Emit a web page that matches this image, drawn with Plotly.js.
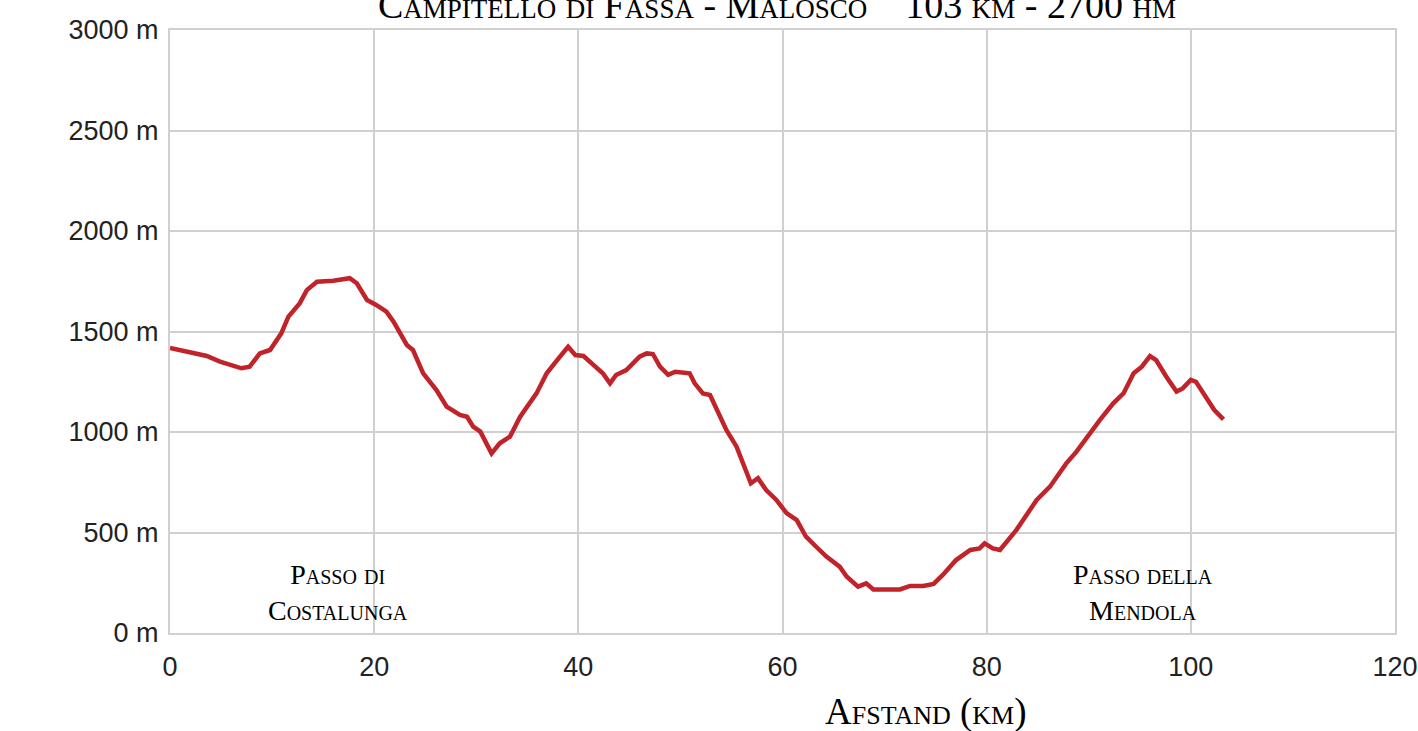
<!DOCTYPE html>
<html>
<head>
<meta charset="utf-8">
<script src="https://cdn.plot.ly/plotly-3.0.1.min.js"></script>
<style>html,body{margin:0;padding:0;background:#fff;}#chart{width:1418px;height:731px;}</style>
</head>
<body>
<div id="chart"></div>
<script>
const distanceKm = [0.0,1.5,3.6,4.9,7.0,7.8,8.8,9.8,10.9,11.6,12.7,13.4,14.4,16.0,17.6,18.3,19.3,20.2,21.2,21.9,23.2,23.8,24.8,26.1,27.1,28.4,29.1,29.7,30.4,31.5,32.3,33.3,34.3,35.9,36.9,38.2,39.0,39.7,40.5,41.5,42.4,43.1,43.7,44.7,46.0,46.7,47.3,48.0,48.8,49.5,50.9,51.4,52.2,52.9,53.9,54.5,55.5,56.1,56.9,57.6,58.4,59.4,60.4,61.4,62.3,63.3,64.3,65.6,66.3,67.4,68.2,68.9,71.5,72.5,73.8,74.8,75.7,77.0,78.4,79.3,79.8,80.6,81.3,82.9,84.9,86.2,87.8,88.8,90.1,91.1,92.4,93.4,94.4,95.2,96.0,96.6,97.6,98.6,99.2,100.0,100.5,101.5,102.3,103.2];
const elevationM = [1418,1400,1378,1350,1317,1325,1391,1408,1491,1574,1640,1706,1748,1753,1765,1740,1657,1632,1599,1549,1433,1408,1292,1209,1126,1085,1076,1027,1002,894,944,977,1076,1192,1292,1375,1424,1383,1378,1333,1292,1242,1284,1308,1375,1391,1388,1325,1284,1300,1292,1242,1192,1184,1076,1010,927,844,745,770,711,662,596,562,479,429,380,330,280,231,247,217,217,234,234,244,289,363,413,421,446,421,413,512,662,728,844,902,994,1060,1143,1192,1292,1325,1378,1358,1275,1201,1217,1259,1250,1168,1109,1063];
const xTickVals = [0,20,40,60,80,100,120];
const yTickVals = [0,500,1000,1500,2000,2500,3000];
const yTickText = ["0 m","500 m","1000 m","1500 m","2000 m","2500 m","3000 m"];
const passNames = ["Passo di<br>Costalunga","Passo della<br>Mendola"];
const passKm = [16.5,95.3];
const passLabelM = [200,200];
const chartTitle = "Campitello di Fassa - Malosco&nbsp;&nbsp;&nbsp;&nbsp;103 km - 2700 hm";
const xTitle = "Afstand (km)";

const serif = "Liberation Serif, Times New Roman, serif";
const sans = "Liberation Sans, Arial, sans-serif";

const trace = {
  type: 'scatter', mode: 'lines',
  x: distanceKm, y: elevationM,
  line: {color: '#c1232b', width: 4.5},
  hoverinfo: 'x+y'
};

const annotations = passNames.map((t,i)=>({
  text: t, x: passKm[i], y: passLabelM[i], xref:'x', yref:'y',
  showarrow:false, xanchor:'center', yanchor:'middle',
  font:{family:serif, size:28, color:'#000', variant:'small-caps'}
}));
annotations.push({
  text: xTitle, x: 0.617, y: -79/603, xref:'paper', yref:'paper',
  xanchor:'center', yanchor:'middle', showarrow:false,
  font:{family:serif, size:37, color:'#000', variant:'small-caps'}
});

const layout = {
  width:1418, height:731,
  margin:{l:170, r:23, t:30, b:98},
  paper_bgcolor:'#fff', plot_bgcolor:'#fff',
  showlegend:false,
  title:{text: chartTitle, x:0.4955, xanchor:'center', xref:'paper', yref:'container', y:1-18/731, yanchor:'bottom',
         font:{family:serif, size:38, color:'#000', variant:'small-caps'}},
  xaxis:{range:[0,120], tickvals:xTickVals, showgrid:true, gridcolor:'#d0d0d0', gridwidth:2,
         zeroline:false, showline:true, mirror:true, linecolor:'#d0d0d0', linewidth:2,
         ticks:'', ticklabelstandoff:9, tickfont:{family:sans, size:27, color:'#222'}, fixedrange:true},
  yaxis:{range:[0,3000], tickmode:'array', tickvals:yTickVals, ticktext:yTickText, showgrid:true, gridcolor:'#d0d0d0', gridwidth:2,
         zeroline:false, showline:true, mirror:true, linecolor:'#d0d0d0', linewidth:2,
         ticks:'', ticklabelstandoff:4, tickfont:{family:sans, size:27, color:'#222'}, fixedrange:true},
  annotations: annotations
};

Plotly.newPlot('chart', [trace], layout, {displayModeBar:false});
</script>
</body>
</html>
